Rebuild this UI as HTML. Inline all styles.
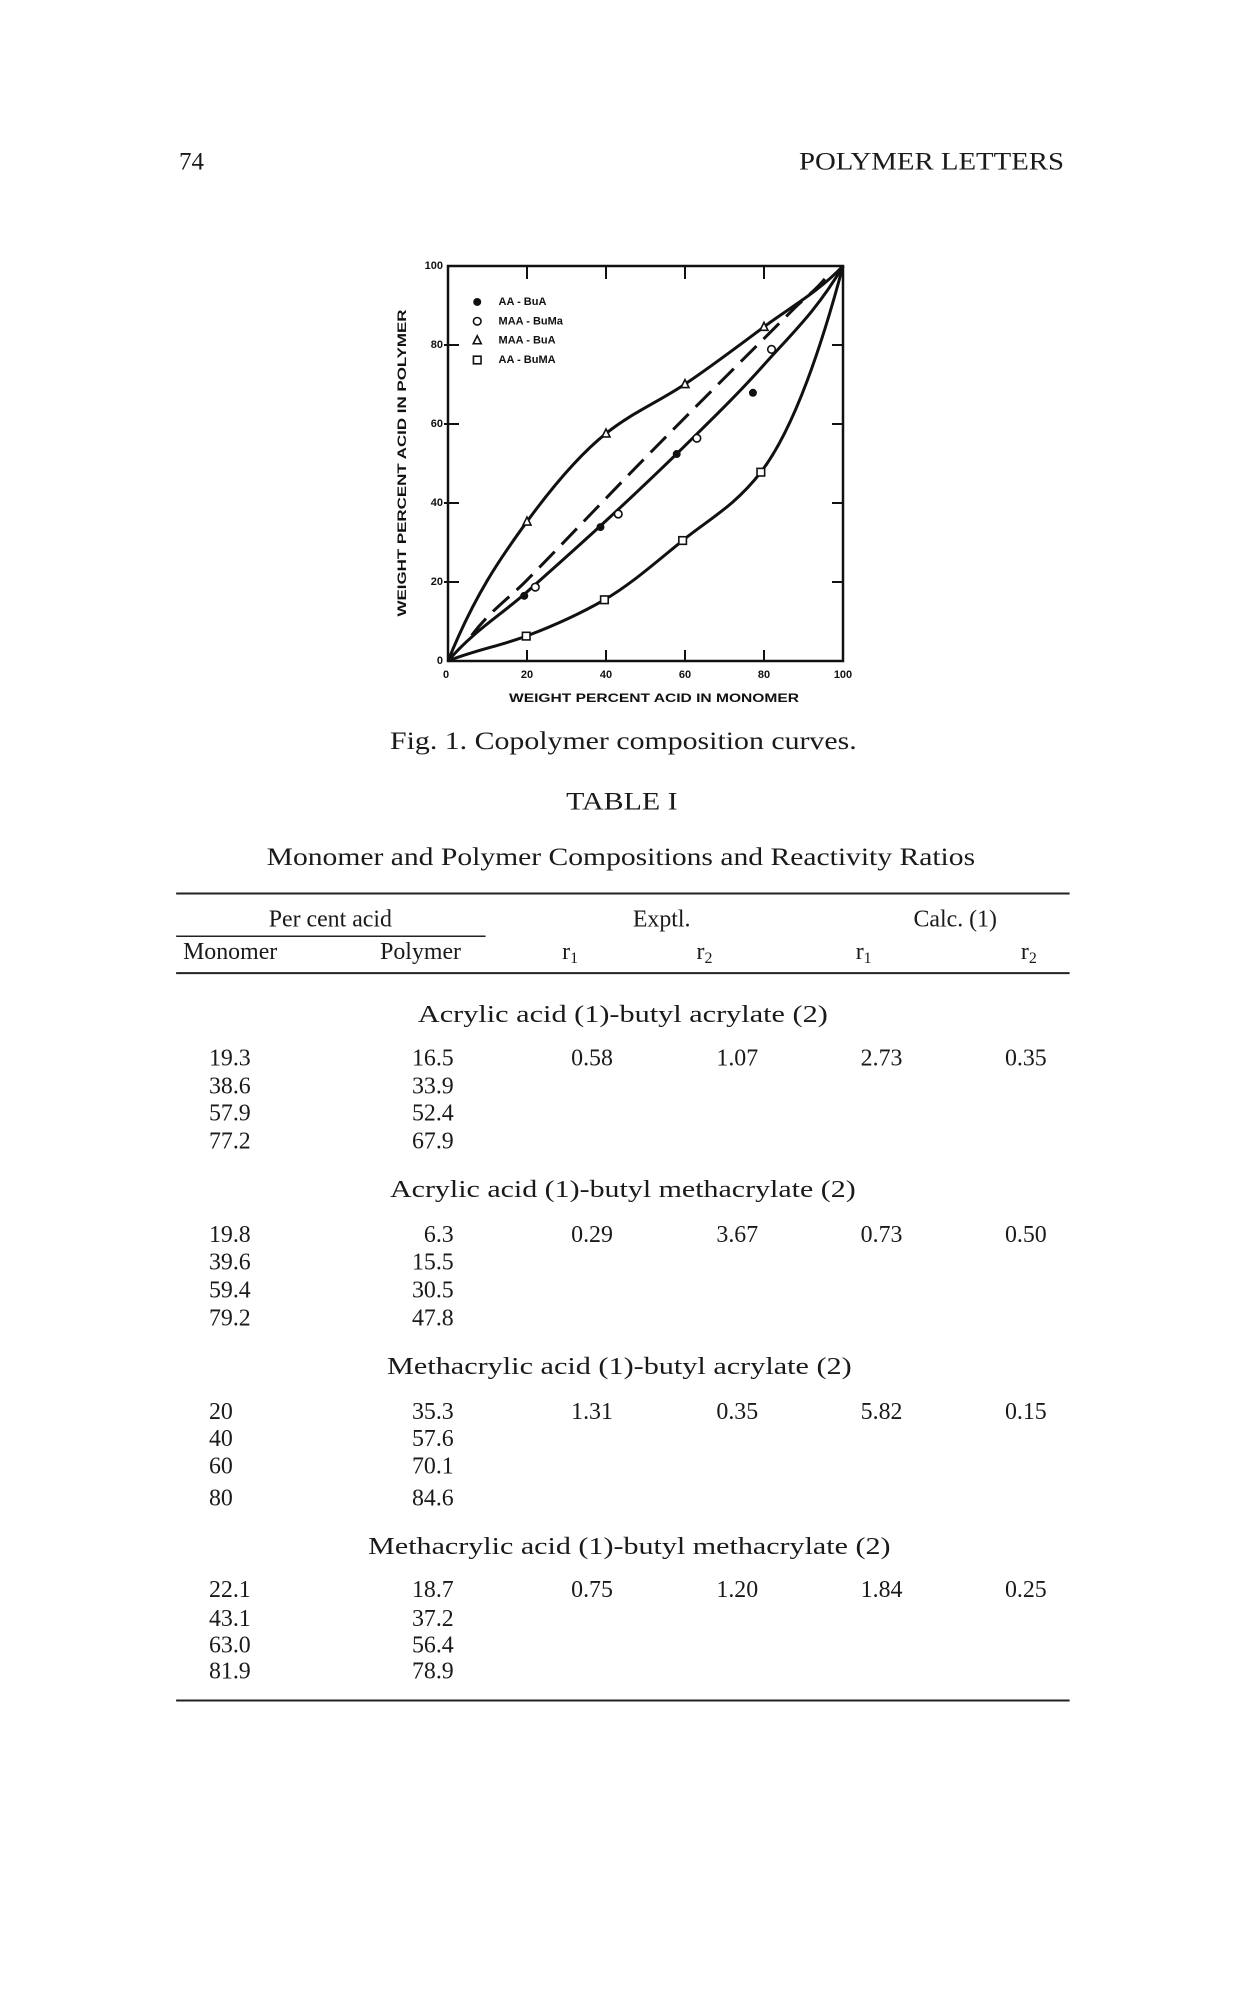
<!DOCTYPE html>
<html><head><meta charset="utf-8">
<style>
html,body{margin:0;padding:0;background:#fff;}
svg{display:block;}
.s{font-family:"Liberation Serif",serif;fill:#1a1a1a;}
.c{font-family:"Liberation Sans",sans-serif;font-weight:bold;fill:#111;}
</style></head>
<body>
<svg id="page" width="1250" height="2000" viewBox="0 0 1250 2000" xmlns="http://www.w3.org/2000/svg">
<rect width="1250" height="2000" fill="#fff"/>
<text class="s" x="179" y="162" font-size="25" dominant-baseline="central">74</text>
<text class="s" x="799" y="162" font-size="25" textLength="265" lengthAdjust="spacingAndGlyphs" dominant-baseline="central">POLYMER LETTERS</text>

<g id="chart"></g>

<g transform="matrix(0.995,0,0,0.995,1,1)">
<text class="s" x="391" y="744" font-size="25" textLength="469" lengthAdjust="spacingAndGlyphs" dominant-baseline="central">Fig. 1. Copolymer composition curves.</text>
<text class="s" x="568" y="805" font-size="25" textLength="112" lengthAdjust="spacingAndGlyphs" dominant-baseline="central">TABLE I</text>
<text class="s" x="267" y="861" font-size="25" textLength="712" lengthAdjust="spacingAndGlyphs" dominant-baseline="central">Monomer and Polymer Compositions and Reactivity Ratios</text>

<g>
<line x1="176" y1="897" x2="1074" y2="897" stroke="#222" stroke-width="2"/>
<text class="s" x="331" y="923" font-size="24" text-anchor="middle" dominant-baseline="central">Per cent acid</text>
<line x1="176" y1="940" x2="487" y2="940" stroke="#222" stroke-width="1.5"/>
<text class="s" x="664" y="923" font-size="24" text-anchor="middle" dominant-baseline="central">Exptl.</text>
<text class="s" x="959" y="923" font-size="24" text-anchor="middle" dominant-baseline="central">Calc. (1)</text>
<text class="s" x="183" y="956" font-size="24" dominant-baseline="central">Monomer</text>
<text class="s" x="381" y="956" font-size="24" dominant-baseline="central">Polymer</text>
<text class="s" x="564" y="956" font-size="24" dominant-baseline="central">r<tspan font-size="16" dy="6">1</tspan></text>
<text class="s" x="699" y="956" font-size="24" dominant-baseline="central">r<tspan font-size="16" dy="6">2</tspan></text>
<text class="s" x="859" y="956" font-size="24" dominant-baseline="central">r<tspan font-size="16" dy="6">1</tspan></text>
<text class="s" x="1025" y="956" font-size="24" dominant-baseline="central">r<tspan font-size="16" dy="6">2</tspan></text>
<line x1="176" y1="977" x2="1074" y2="977" stroke="#222" stroke-width="2"/>
<g id="rows"></g>
<line x1="176" y1="1708" x2="1074" y2="1708" stroke="#222" stroke-width="2"/>
</g>
</g>
</svg>
<script>
// ---- chart data ----
const seriesNames = ["AA - BuA","MAA - BuMa","MAA - BuA","AA - BuMA"];
const aaBuaX = [19.3,38.6,57.9,77.2];
const aaBuaY = [16.5,33.9,52.4,67.9];
const maaBumaX = [22.1,43.1,63.0,81.9];
const maaBumaY = [18.7,37.2,56.4,78.9];
const maaBuaX = [20,40,60,80];
const maaBuaY = [35.3,57.6,70.1,84.6];
const aaBumaX = [19.8,39.6,59.4,79.2];
const aaBumaY = [6.3,15.5,30.5,47.8];
const solidCurveX = [0,20,40,60,80,100];
const solidCurveY = [0,17.5,35.5,54.5,75,100];
const dashedCurveX = [6,20,50,88,96];
const dashedCurveY = [6.5,20.5,51.5,89.6,97.5];
const xTicks = [0,20,40,60,80,100];
const yTicks = [0,20,40,60,80,100];

const NS="http://www.w3.org/2000/svg";
const L=448,R=843,T=266,B=661;
function sx(v){return L+(R-L)*v/100;}
function sy(v){return B-(B-T)*v/100;}
const chart=document.getElementById('chart');
function mk(tag,attrs,parent){const e=document.createElementNS(NS,tag);for(const k in attrs)e.setAttribute(k,attrs[k]);(parent||chart).appendChild(e);return e;}
// shape-preserving cubic (harmonic-mean tangents)
function smooth(xs,ys){
  const n=xs.length, s=[], m=[];
  for(let i=0;i<n-1;i++) s.push((ys[i+1]-ys[i])/(xs[i+1]-xs[i]));
  m[0]=s[0]; m[n-1]=s[n-2];
  for(let i=1;i<n-1;i++){
    const a=s[i-1],b=s[i];
    m[i]=(a*b<=0)?0:2*a*b/(a+b);
  }
  m[0]=Math.max(0,2*s[0]-m[1]*0.5)*0.67+s[0]*0.33;
  m[n-1]=Math.max(0,2*s[n-2]-m[n-2]*0.5)*0.67+s[n-2]*0.33;
  let d="M"+sx(xs[0])+","+sy(ys[0]);
  for(let i=0;i<n-1;i++){
    const h=xs[i+1]-xs[i];
    const x1=xs[i]+h/3,y1=ys[i]+m[i]*h/3,x2=xs[i+1]-h/3,y2=ys[i+1]-m[i+1]*h/3;
    d+=" C"+sx(x1)+","+sy(y1)+" "+sx(x2)+","+sy(y2)+" "+sx(xs[i+1])+","+sy(ys[i+1]);
  }
  return d;
}
// frame
let fr=mk('rect',{x:L,y:T,width:R-L,height:B-T,fill:'none',stroke:'#111','stroke-width':2.5});


xTicks.forEach(v=>{
  if(v>0&&v<100){
    let t1=mk('line',{x1:sx(v),y1:B,x2:sx(v),y2:B-11,stroke:'#111','stroke-width':2});
    
    
    let t2=mk('line',{x1:sx(v),y1:T,x2:sx(v),y2:T+13,stroke:'#111','stroke-width':2});
    
    
  }
  let lb=mk('text',{x:sx(v)+(v===0?-2:0),y:675,'font-size':11,'text-anchor':'middle','dominant-baseline':'central',class:'c'});
  lb.textContent=v;
  
  
});
yTicks.forEach(v=>{
  if(v>0&&v<100){
    let t1=mk('line',{x1:L-4,y1:sy(v),x2:L+11,y2:sy(v),stroke:'#111','stroke-width':2});
    
    
    let t2=mk('line',{x1:R,y1:sy(v),x2:R-11,y2:sy(v),stroke:'#111','stroke-width':2});
    
    
  }
  let lb=mk('text',{x:L-5,y:sy(v),'font-size':11,'text-anchor':'end','dominant-baseline':'central',class:'c'});
  lb.textContent=v;
  
  
});
let xt=mk('text',{x:509,y:698,'font-size':12,textLength:290,lengthAdjust:'spacingAndGlyphs','dominant-baseline':'central',class:'c'});
xt.textContent='WEIGHT PERCENT ACID IN MONOMER';


let yt=mk('text',{x:0,y:0,'font-size':12,textLength:307,lengthAdjust:'spacingAndGlyphs','text-anchor':'middle','dominant-baseline':'central',class:'c',transform:'translate(402,463) rotate(-90)'});
yt.textContent='WEIGHT PERCENT ACID IN POLYMER';


// curves
let c1=mk('path',{d:smooth([0].concat(maaBuaX,[100]),[0].concat(maaBuaY,[100])),fill:'none',stroke:'#111','stroke-width':3});


let c2=mk('path',{d:smooth([0].concat(aaBumaX,[100]),[0].concat(aaBumaY,[100])),fill:'none',stroke:'#111','stroke-width':3});


let c3=mk('path',{d:smooth(solidCurveX,solidCurveY),fill:'none',stroke:'#111','stroke-width':3});


let c4=mk('path',{d:smooth(dashedCurveX,dashedCurveY),fill:'none',stroke:'#111','stroke-width':3,'stroke-dasharray':'22 10'});


// markers
function marker(type,x,y,name){
  let e;
  if(type==='fc'){e=mk('circle',{cx:x,cy:y,r:4,fill:'#111'});}
  else if(type==='oc'){e=mk('circle',{cx:x,cy:y,r:3.8,fill:'#fff',stroke:'#111','stroke-width':1.6});}
  else if(type==='tr'){e=mk('path',{d:`M${x},${y-4.5} L${x+4},${y+3.5} L${x-4},${y+3.5} Z`,fill:'#fff',stroke:'#111','stroke-width':1.6});}
  else {e=mk('rect',{x:x-3.8,y:y-3.8,width:7.6,height:7.6,fill:'#fff',stroke:'#111','stroke-width':1.6});}
  
  
}
aaBuaX.forEach((v,i)=>marker('fc',sx(v),sy(aaBuaY[i]),'point-aa-bua'));
maaBumaX.forEach((v,i)=>marker('oc',sx(v),sy(maaBumaY[i]),'point-maa-buma'));
maaBuaX.forEach((v,i)=>marker('tr',sx(v),sy(maaBuaY[i]),'point-maa-bua'));
aaBumaX.forEach((v,i)=>marker('sq',sx(v),sy(aaBumaY[i]),'point-aa-buma'));
// legend
const legendTypes=['fc','oc','tr','sq'];
const legendY=[90.9,86.0,81.2,76.2];
seriesNames.forEach((n,i)=>{
  marker(legendTypes[i],sx(7.4),sy(legendY[i]),'legend-marker');
  let t=mk('text',{x:sx(12.8),y:sy(legendY[i]),'font-size':11,'dominant-baseline':'central',class:'c'});
  t.textContent=n;
  
  
});

// ---- table ----
const rowsG=document.getElementById('rows');
const groupTitles=["Acrylic acid (1)-butyl acrylate (2)","Acrylic acid (1)-butyl methacrylate (2)","Methacrylic acid (1)-butyl acrylate (2)","Methacrylic acid (1)-butyl methacrylate (2)"];
const titleX=[419,391,388,369];
const titleW=[412,468,467,525];
const titleY=[1019,1195,1373,1554];
const rowY=[[1063,1091,1118,1146],[1240,1268,1296,1324],[1418,1445,1473,1505],[1597,1626,1653,1679]];
const monomerVals=[["19.3","38.6","57.9","77.2"],["19.8","39.6","59.4","79.2"],["20","40","60","80"],["22.1","43.1","63.0","81.9"]];
const polymerVals=[["16.5","33.9","52.4","67.9"],["6.3","15.5","30.5","47.8"],["35.3","57.6","70.1","84.6"],["18.7","37.2","56.4","78.9"]];
const ratios=[["0.58","1.07","2.73","0.35"],["0.29","3.67","0.73","0.50"],["1.31","0.35","5.82","0.15"],["0.75","1.20","1.84","0.25"]];
const ratioX=[573,719,864,1009];
function st(x,y,s,anchor,name,w){
  const e=document.createElementNS(NS,'text');
  e.setAttribute('class','s');e.setAttribute('x',x);e.setAttribute('y',y);
  e.setAttribute('font-size','24');e.setAttribute('dominant-baseline','central');
  if(anchor)e.setAttribute('text-anchor',anchor);
  if(w){e.setAttribute('textLength',w);e.setAttribute('lengthAdjust','spacingAndGlyphs');}
  e.textContent=s;
  
  
  rowsG.appendChild(e);
}
groupTitles.forEach((g,i)=>{
  st(titleX[i],titleY[i],g,null,'group-title',titleW[i]);
  monomerVals[i].forEach((m,j)=>{
    st(209,rowY[i][j],m,null,'monomer-cell');
    st(455,rowY[i][j],polymerVals[i][j],'end','polymer-cell');
  });
  ratios[i].forEach((r,k)=>st(ratioX[k],rowY[i][0],r,null,'ratio-cell'));
});
</script>
</body></html>
